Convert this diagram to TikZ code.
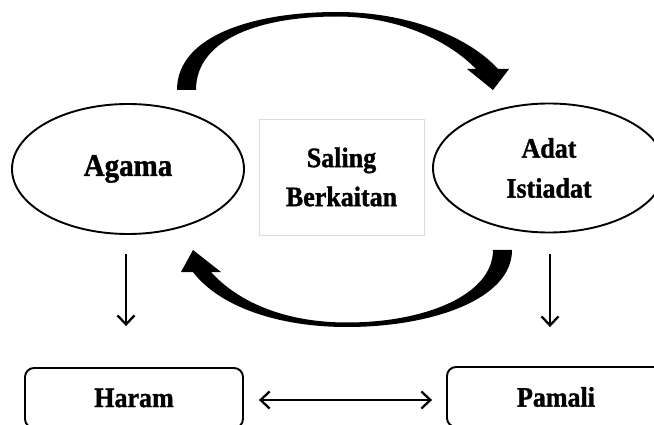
\documentclass[tikz,border=0pt]{standalone}
\usepackage{fontspec}
\setmainfont{Liberation Serif}[BoldFeatures={FakeBold=1.3}]
\usetikzlibrary{shapes.geometric,arrows.meta}
\newcommand{\tallline}[1]{\scalebox{1}[1.08]{#1}}
\begin{document}
\begin{tikzpicture}[x=1pt,y=-1pt,
  oval/.style={ellipse,draw,line width=1.9pt,inner sep=0pt,align=center,
    font=\bfseries\fontsize{26}{40}\selectfont},
  midbox/.style={rectangle,draw=black!14,line width=0.8pt,align=center,
    minimum width=165pt,minimum height=116pt,
    font=\bfseries\fontsize{26}{39}\selectfont},
  resultbox/.style={rectangle,draw,line width=1.9pt,rounded corners=9pt,
    minimum width=218pt,minimum height=60pt,
    font=\bfseries\fontsize{26}{30}\selectfont},
  barb/.style={Straight Barb[length=9pt,width=17pt,line width=2.3pt]},
  thinarrow/.style={line width=2.3pt,-{Straight Barb[length=9pt,width=17pt,line width=2.3pt]}},
  botharrow/.style={line width=2.3pt,{Straight Barb[length=9pt,width=17pt,line width=2.3pt]}-{Straight Barb[length=9pt,width=17pt,line width=2.3pt]}}]
\useasboundingbox (0,0) rectangle (654,425);
\clip (0,0) rectangle (654,425);

% the two concepts and the link between them
\node[oval,minimum width=232pt,minimum height=130pt,
  font=\bfseries\fontsize{29}{40}\selectfont] (agama) at (128,169) {\tallline{Agama}};
\node[oval,minimum width=232pt,minimum height=129pt] (adat) at (549,168) {\tallline{Adat}\\\tallline{Istiadat}};
\node[midbox] (link) at (341.5,177) {\tallline{Saling}\\\tallline{Berkaitan}};

% consequences
\node[resultbox] (haram) at (134,398) {\tallline{Haram}};
\node[resultbox] (pamali) at (556,397) {\tallline{Pamali}};

% upper block arrow, Agama to Adat Istiadat
\fill (177,90) .. controls (177,35) and (255,12) .. (337,12)
  .. controls (410,12) and (470,38) .. (498,69) -- (509,69) -- (493,90)
  -- (467,69) -- (476,69) .. controls (450,42) and (400,16.5) .. (337,16.5)
  .. controls (262,16.5) and (196,38) .. (196,90) -- cycle;

% lower block arrow, Adat Istiadat back to Agama
\fill (493,250) -- (512,250) .. controls (512,300) and (430,327) .. (347,327)
  .. controls (275,327) and (218,305) .. (193,272) -- (181,272) -- (193,250)
  -- (221,272) -- (211,272) .. controls (238,302) and (285,322.5) .. (347,322.5)
  .. controls (425,322.5) and (493,295) .. (493,250) -- cycle;

% thin connectors
\draw[thinarrow] ([xshift=-2pt,yshift=-19pt]agama.south) -- ([xshift=-8pt,yshift=41pt]haram.north);
\draw[thinarrow] ([xshift=1pt,yshift=-21pt]adat.south) -- ([xshift=-6pt,yshift=39pt]pamali.north);
\draw[botharrow] ([xshift=15pt,yshift=-2pt]haram.east) -- ([xshift=-14pt,yshift=-3pt]pamali.west);
\end{tikzpicture}
\end{document}
